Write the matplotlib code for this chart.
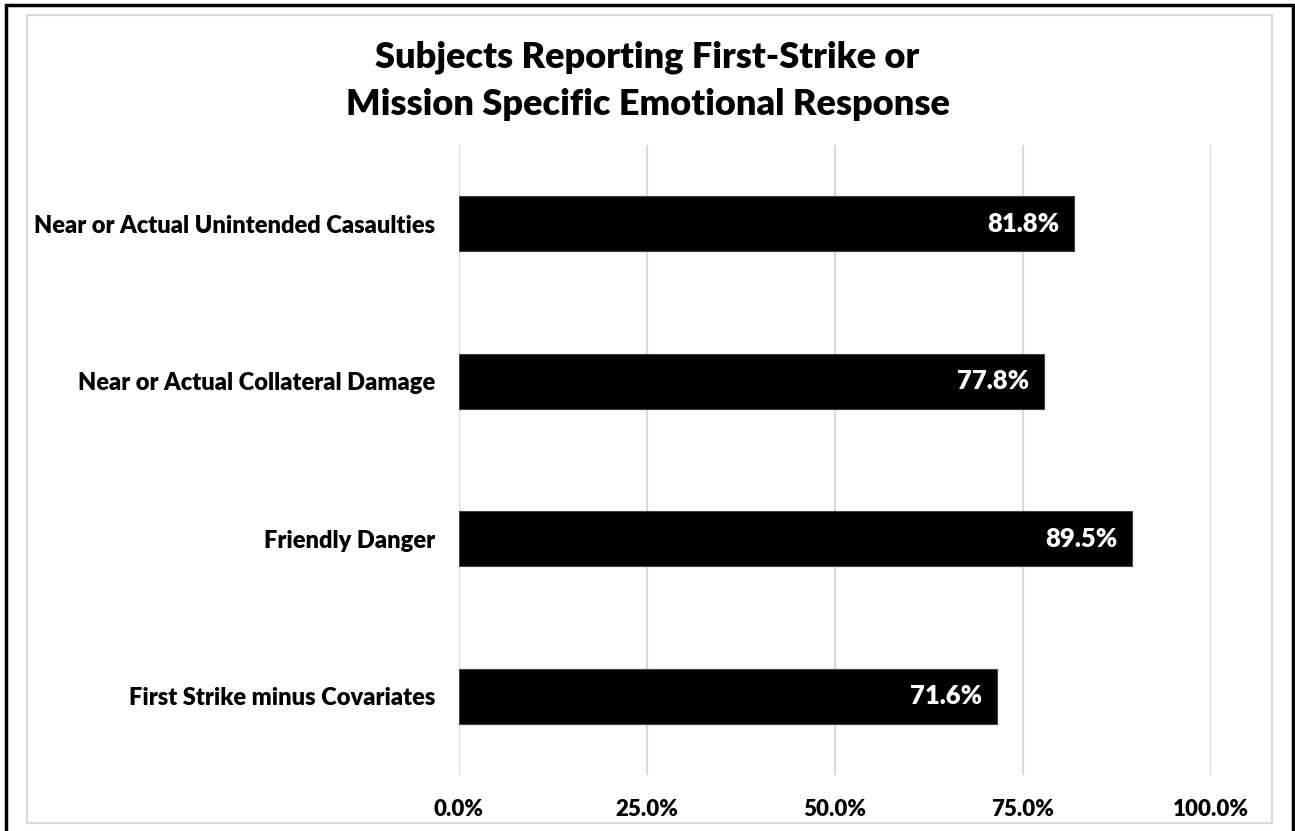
import matplotlib.pyplot as plt
from matplotlib.patches import Rectangle

categories = ["Near or Actual Unintended Casaulties",
              "Near or Actual Collateral Damage",
              "Friendly Danger",
              "First Strike minus Covariates"]
values = [81.8, 77.8, 89.5, 71.6]
ticks = [0, 25, 50, 75, 100]
tick_labels = ["0.0%", "25.0%", "50.0%", "75.0%", "100.0%"]

plt.rcParams['font.family'] = ['Lato', 'DejaVu Sans']

W, H = 1295, 831
fig = plt.figure(figsize=(W / 100, H / 100), dpi=100)

# outer black frame and inner grey chart border
fig.patches.append(Rectangle((6 / W, -0.1), 1287 / W, 1.1 - 5 / H, transform=fig.transFigure,
                             fill=False, edgecolor='black', linewidth=2.5))
fig.patches.append(Rectangle((27 / W, 1 - 823 / H), 1245 / W, 808 / H, transform=fig.transFigure,
                             fill=False, edgecolor='#d9d9d9', linewidth=1.5))

ax = fig.add_axes([459 / W, 1 - 775 / H, 752 / W, 630 / H])
ypos = range(len(categories))
ax.barh(ypos, values, height=0.35, color='black', edgecolor='#404040', linewidth=0.8, zorder=3)
for y, v in zip(ypos, values):
    ax.text(v - 2.0, y, f"{v:.1f}%", ha='right', va='center', color='white',
            fontsize=18.5, fontweight='heavy', zorder=4)

ax.set_xlim(0, 100)
ax.set_ylim(3.5, -0.5)
ax.set_yticks(list(ypos))
ax.set_yticklabels(categories, fontsize=17, fontweight='heavy')
ax.set_xticks(ticks)
ax.set_xticklabels(tick_labels, fontsize=16, fontweight='heavy')
ax.tick_params(length=0)
ax.tick_params(axis='x', pad=17)
ax.tick_params(axis='y', pad=17)
ax.grid(axis='x', color='#d9d9d9', linewidth=1.5, zorder=0)
for s in ax.spines.values():
    s.set_visible(False)

fig.text(0.5, 1 - 81 / H, "Subjects Reporting First-Strike or\nMission Specific Emotional Response",
         ha='center', va='center', fontsize=26, fontweight='heavy', linespacing=1.5)

fig.savefig("out.png", dpi=100)
